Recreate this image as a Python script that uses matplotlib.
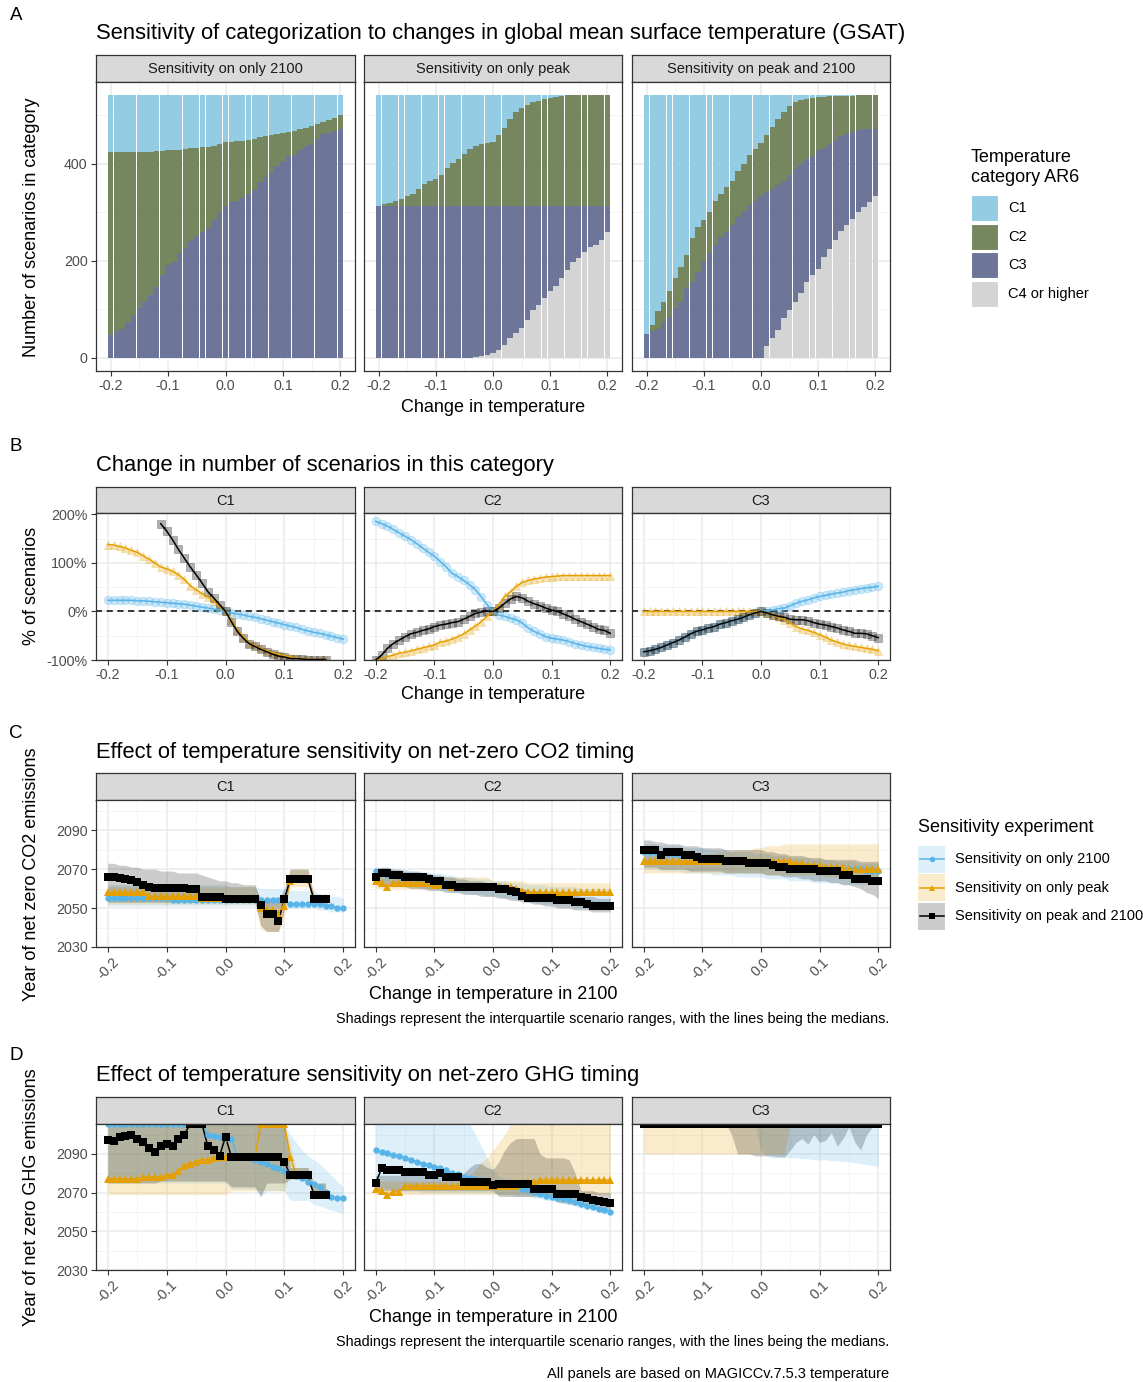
import numpy as np
import matplotlib
matplotlib.use("Agg")
import matplotlib.pyplot as plt
from matplotlib.patches import Rectangle

plt.rcParams['font.family'] = ['Liberation Sans', 'DejaVu Sans']

nan = np.nan
TOP = 2105.5   # scenarios that do not reach net zero sit on the upper edge

# change in temperature (x categories)
dT = np.round(np.linspace(-0.2, 0.2, 41), 2)
TOTAL = 541

# ---- panel A: stacked counts, given as cumulative tops of each category ----
only2100_top_c4 = [0] * 41
only2100_top_c3 = [48, 55, 60, 74, 89, 102, 116, 130, 145, 170, 191, 198, 215, 227, 240, 251, 259, 268, 283, 300,
                   313, 321, 324, 329, 337, 345, 363, 372, 382, 395, 404, 415, 418, 427, 437, 440, 451, 461, 464, 468, 471]
only2100_top_c2 = [423] * 8 + [425, 426, 427, 428, 429, 431, 432, 433, 434, 435, 437, 440, 444, 445, 446, 447, 449,
                               451, 454, 456, 458, 461, 463, 465, 468, 471, 474, 478, 482, 486, 490, 494, 500]

onlypeak_top_c4 = [0] * 17 + [1, 3, 6, 10, 17, 26, 40, 51, 61, 78, 99, 109, 123, 137, 149, 164, 181, 198, 206, 217,
                               229, 233, 242, 259]
onlypeak_top_c3 = [312] * 41
onlypeak_top_c2 = [313, 316, 318, 323, 328, 333, 338, 348, 358, 364, 369, 376, 390, 401, 410, 420, 430, 436, 440, 442,
                   444, 459, 474, 491, 507, 515, 520, 526, 529, 532, 536, 538, 539] + [541] * 8

both_top_c4 = [0] * 21 + [25, 41, 58, 82, 99, 116, 133, 157, 171, 184, 208, 225, 242, 261, 273, 285, 300, 311, 321, 334]
both_top_c3 = [49, 55, 60, 74, 85, 102, 116, 143, 157, 177, 198, 215, 232, 249, 259, 273, 290, 302, 314, 324,
               334, 341, 348, 355, 365, 377, 388, 399, 410, 416, 427, 433, 440, 447, 456, 461, 466, 469, 471, 472, 472]
both_top_c2 = [49, 68, 96, 116, 137, 165, 188, 212, 246, 270, 283, 300, 324, 338, 352, 365, 384, 399, 418, 430,
               442, 459, 476, 491, 507, 519, 527, 531, 534, 536, 537, 538, 539, 539, 540, 540, 540, 541, 541, 541, 541]

# ---- panel B: % change in number of scenarios ----
b_c1_2100 = [23, 23, 23, 23, 23, 22, 22, 21, 20, 19, 18, 17, 16, 15, 13, 11, 9, 7, 5, 3, 0, -3, -5, -7, -10, -12,
             -15, -18, -21, -24, -27, -30, -33, -37, -40, -43, -45, -48, -51, -54, -57]
b_c1_peak = [138, 137, 134, 131, 126, 122, 115, 108, 100, 92, 88, 83, 76, 66, 53, 45, 37, 30, 21, 10, 0, -17, -38,
             -52, -64, -70, -76, -81, -85, -88, -91, -93, -96, -97, -98, -99, -99, -99, nan, nan, nan]
b_c1_both = [nan] * 9 + [181, 166, 148, 128, 110, 92, 76, 59, 41, 28, 14, 0, -21, -41, -55, -66, -72, -78, -83, -88,
                         -92, -94, -97, -97, -98, -99, -99, -99, -99] + [nan] * 3
b_c2_2100 = [186, 181, 176, 169, 162, 155, 148, 140, 131, 122, 114, 103, 92, 79, 72, 64, 55, 45, 30, 14, 0, -7, -10,
             -14, -17, -24, -34, -41, -46, -52, -55, -57, -59, -62, -66, -69, -72, -74, -76, -78, -79]
b_c2_peak = [-100, -98, -93, -90, -86, -84, -81, -78, -75, -72, -69, -63, -61, -57, -52, -46, -38, -30, -21, -10, 0,
             14, 31, 41, 52, 60, 64, 67, 69, 71, 72, 73, 74, 74, 74, 74, 74, 74, 74, 74, 74]
b_c2_both = [-100, -90, -76, -66, -59, -52, -46, -43, -39, -36, -31, -28, -26, -23, -21, -16, -10, -4, -1, 1, 0, 7,
             17, 26, 31, 28, 21, 16, 12, 7, 3, 0, -5, -10, -16, -21, -26, -31, -37, -39, -45]
b_c3_2100 = [-83, -81, -78, -74, -69, -64, -59, -53, -46, -41, -38, -34, -31, -26, -23, -19, -16, -12, -7, -3, 0, 2,
             3, 6, 7, 12, 17, 21, 24, 28, 31, 33, 36, 38, 40, 43, 45, 47, 49, 50, 52]
b_c3_peak = [0] * 21 + [-3, -7, -12, -17, -24, -31, -36, -39, -43, -48, -53, -59, -63, -67, -70, -72, -74, -76, -78, -81]
b_c3_both = [-83, -81, -78, -74, -69, -64, -59, -53, -46, -41, -38, -34, -31, -26, -23, -19, -16, -12, -7, -3, 0, -3,
             -7, -10, -12, -16, -17, -17, -19, -23, -26, -28, -31, -34, -38, -41, -45, -45, -46, -50, -54]

# ---- panel C: net-zero CO2 year (median, 25th, 75th percentile) ----
co2_c1_2100_med = [2055] * 11 + [2054] * 20 + [2052] * 6 + [2051] * 2 + [2050] * 2
co2_c1_2100_lo = [2051] * 31 + [2050] * 5 + [2049, 2049, 2048, 2048, 2048]
co2_c1_2100_hi = [2062] * 21 + [2061] * 5 + [2060] * 5 + [2059] * 5 + [2057, 2057, 2056, 2056, 2055]
co2_c1_peak_med = [2058] * 7 + [2056] * 9 + [2055] * 10 + [2050, 2049, 2049, 2047, 2051, 2064, 2065, 2065, 2065,
                                                           2055, 2055, 2055] + [nan] * 3
co2_c1_peak_lo = [2052] * 26 + [2039, 2038, 2038, 2038, 2045, 2061, 2061, 2061, 2061, 2052, 2052, 2052] + [nan] * 3
co2_c1_peak_hi = [2061] * 26 + [2054, 2054, 2054, 2054, 2056, 2070, 2070, 2070, 2070, 2057, 2057, 2057] + [nan] * 3
co2_c1_both_med = [2066, 2066, 2065.5, 2065, 2064.5, 2063.5, 2062, 2061, 2060.5, 2060.5, 2060.5, 2060.5, 2060.5,
                   2060.5, 2060, 2060, 2055.5, 2055.5, 2055.5, 2055.5, 2054.5, 2054.5, 2054.5, 2054.5, 2054.5, 2054.5,
                   2051.5, 2047, 2047, 2043.5, 2054.5, 2065, 2065, 2065, 2065, 2054.5, 2054.5, 2054.5, nan, nan, nan]
co2_c1_both_lo = [2053] * 26 + [2041, 2038, 2038, 2038, 2049, 2064, 2064, 2064, 2064, 2052, 2052, 2052] + [nan] * 3
co2_c1_both_hi = [2073, 2073, 2072, 2072, 2071, 2071, 2070, 2070, 2070, 2069, 2069, 2069, 2068, 2068, 2068, 2068,
                  2067, 2066, 2065, 2064, 2064, 2063, 2063, 2062, 2062, 2062, 2054, 2054, 2054, 2054, 2060, 2070,
                  2070, 2070, 2070, 2057, 2057, 2057, nan, nan, nan]

co2_c2_2100_med = [2069, 2068, 2067, 2067, 2066, 2066, 2066, 2065, 2065, 2065, 2064, 2064, 2063, 2062, 2062, 2061,
                   2061, 2061, 2061, 2061, 2061, 2060, 2060, 2059, 2058, 2057, 2056, 2056, 2056, 2056, 2056, 2055,
                   2055, 2054, 2054, 2053, 2053, 2052, 2052, 2051, 2051]
co2_c2_2100_lo = [2063, 2063, 2062, 2062, 2062, 2061, 2061, 2061, 2060, 2060, 2060, 2059, 2059, 2058, 2058, 2058,
                  2057, 2057, 2057, 2056, 2056, 2056, 2055, 2055, 2054, 2054, 2053, 2053, 2052, 2052, 2052, 2051,
                  2051, 2051, 2050, 2050, 2050, 2049, 2049, 2049, 2049]
co2_c2_2100_hi = [2071, 2071, 2071, 2070, 2070, 2070, 2069, 2069, 2069, 2068, 2068, 2068, 2067, 2067, 2066, 2066,
                  2066, 2065, 2065, 2065, 2064, 2064, 2064, 2063, 2063, 2063, 2062, 2062, 2062, 2062, 2061, 2061,
                  2061, 2061, 2061, 2060, 2060, 2060, 2060, 2060, 2060]
co2_c2_peak_med = [2064, 2063, 2061, 2063, 2063, 2063, 2063, 2063, 2063, 2063, 2062, 2062, 2062, 2061, 2061, 2061,
                   2061, 2061, 2061, 2061, 2061, 2061, 2061, 2061, 2060, 2059] + [2058] * 15
co2_c2_peak_lo = [2060] * 20 + [2059] * 6 + [2057] * 15
co2_c2_peak_hi = [2066] * 20 + [2064] * 6 + [2063] * 15
co2_c2_both_med = [2066, 2068, 2068, 2067, 2067, 2066, 2066, 2066, 2066, 2065, 2064, 2064, 2062, 2062, 2061, 2061,
                   2061, 2061, 2061, 2061, 2061, 2060, 2060, 2059, 2058, 2056, 2055, 2055, 2055, 2055, 2055, 2054,
                   2054, 2054, 2053, 2053, 2052, 2051, 2051, 2051, 2051]
co2_c2_both_lo = [2062, 2062, 2062, 2061, 2061, 2061, 2060, 2060, 2060, 2059, 2059, 2059, 2058, 2058, 2058, 2057,
                  2057, 2057, 2056, 2056, 2056, 2055, 2055, 2054, 2054, 2053, 2053, 2052, 2052, 2051, 2051, 2050,
                  2050, 2050, 2049, 2049, 2049, 2048, 2048, 2048, 2048]
co2_c2_both_hi = [2070, 2071, 2071, 2070, 2070, 2069, 2069, 2069, 2068, 2068, 2067, 2067, 2066, 2066, 2065, 2065,
                  2064, 2064, 2064, 2063, 2063, 2063, 2062, 2062, 2061, 2060, 2059, 2059, 2059, 2058, 2058, 2058,
                  2057, 2057, 2057, 2056, 2056, 2056, 2055, 2055, 2055]

co2_c3_2100_med = [2079, 2079, 2079, 2078, 2078, 2078, 2077, 2077, 2077, 2076, 2075, 2075, 2075, 2075, 2074, 2074,
                   2074, 2074, 2073, 2073, 2073, 2073, 2072, 2071, 2071, 2071, 2071, 2071, 2070, 2070, 2070, 2070,
                   2070, 2070, 2070, 2070, 2070, 2070, 2069, 2069, 2069]
co2_c3_2100_lo = [2070, 2070, 2070, 2069, 2069, 2069, 2069, 2068, 2068, 2068, 2068, 2068, 2067, 2067, 2067, 2067,
                  2066, 2066, 2066, 2066, 2066, 2065, 2065, 2065, 2065, 2064, 2064, 2064, 2064, 2063, 2063, 2063,
                  2063, 2063, 2062, 2062, 2062, 2062, 2062, 2062, 2062]
co2_c3_2100_hi = [2083, 2083, 2083, 2082, 2082, 2082, 2082, 2081, 2081, 2081, 2081, 2080, 2080, 2080, 2080, 2079,
                  2079, 2079, 2079, 2078, 2078, 2078, 2077, 2077, 2077, 2076, 2076, 2076, 2076, 2075, 2075, 2075,
                  2075, 2074, 2074, 2074, 2074, 2073, 2073, 2073, 2073]
co2_c3_peak_med = [2074] * 26 + [2073, 2073, 2072, 2072, 2072, 2071, 2071, 2071, 2071, 2070, 2070, 2070, 2070, 2070,
                                 2070]
co2_c3_peak_lo = [2068] * 21 + [2067] * 10 + [2066] * 10
co2_c3_peak_hi = [2077] * 11 + [2078, 2078, 2079, 2079, 2079, 2080, 2080, 2080, 2081, 2081, 2082, 2082, 2082,
                                2083] + [2083] * 16
co2_c3_both_med = [2080, 2080, 2080, 2077, 2079, 2079, 2079, 2077, 2077, 2076, 2075, 2075, 2075, 2075, 2074, 2074,
                   2074, 2074, 2073, 2073, 2073, 2073, 2072, 2071, 2071, 2070, 2070, 2070, 2070, 2070, 2069, 2069,
                   2069, 2069, 2067, 2067, 2065, 2065, 2065, 2064, 2064]
co2_c3_both_lo = [2071, 2071, 2071, 2070, 2070, 2070, 2070, 2070, 2069, 2069, 2069, 2069, 2069, 2069, 2068, 2068,
                  2068, 2068, 2068, 2068, 2068, 2067, 2067, 2067, 2066, 2066, 2066, 2065, 2065, 2064, 2064, 2064,
                  2063, 2063, 2062, 2062, 2061, 2060, 2058, 2057, 2055]
co2_c3_both_hi = [2085, 2085, 2084, 2084, 2083, 2083, 2083, 2082, 2082, 2082, 2081, 2081, 2081, 2081, 2080, 2080,
                  2080, 2080, 2080, 2080, 2080, 2079, 2079, 2078, 2078, 2077, 2077, 2077, 2076, 2076, 2076, 2075,
                  2075, 2075, 2075, 2075, 2075, 2074, 2074, 2074, 2074]

# ---- panel D: net-zero GHG year ----
ghg_c1_2100_med = [TOP] * 17 + [2100, 2099.5, 2099, 2098.5, 2098, 2088.5, 2088.5, 2088, 2087, 2086, 2085, 2083.5,
                                2082.5, 2081, 2079, 2078.5, 2077.5, 2075.5, 2074.5, 2073, 2070.5, 2068, 2067, 2067]
ghg_c1_2100_lo = [2075] * 21 + [2072] * 5 + [2068, 2071, 2071, 2071, 2071, 2066, 2066, 2066, 2066, 2064, 2063,
                                             2062, 2061, 2060, 2059]
ghg_c1_2100_hi = [TOP] * 31 + [2100, 2096, 2092, 2089, 2087, 2085, 2082, 2079, 2076, 2073]
ghg_c1_peak_med = [2077] * 6 + [2078] * 4 + [2079, 2079, 2081, 2084, 2085, 2086, 2087, 2087, 2088] + [2088.5] * 7 \
    + [TOP] * 5 + [2088.5, 2079, 2079, 2079, 2069, 2069, 2069] + [nan] * 3
ghg_c1_peak_lo = [2069] * 21 + [2071] * 10 + [2080, 2077, 2077, 2077, 2068, 2068, 2068] + [nan] * 3
ghg_c1_peak_hi = [TOP] * 31 + [2095, 2083, 2083, 2083, 2075, 2075, 2075] + [nan] * 3
ghg_c1_both_med = [2097, 2096.5, 2099, 2099.5, 2100, 2098, 2096, 2093, 2091, 2094, 2095, 2094, 2098, 2100, TOP, TOP,
                   TOP, 2094, 2092, 2089, 2099] + [2088.5] * 9 + [2086, 2079, 2079, 2079, 2079, 2069, 2069, 2069] \
    + [nan] * 3
ghg_c1_both_lo = [2075] * 9 + [2076] * 12 + [2073] * 5 + [2068, 2075, 2075, 2075, 2075, 2077, 2077, 2077, 2077, 2068,
                                                          2068, 2068] + [nan] * 3
ghg_c1_both_hi = [TOP] * 31 + [2083] * 4 + [2075] * 3 + [nan] * 3

ghg_c2_2100_med = [2092, 2091, 2090.5, 2089.5, 2089, 2088, 2087, 2086, 2085, 2084.5, 2083.5, 2082.5, 2081.5, 2080,
                   2079.5, 2078, 2077.5, 2077, 2076.5, 2075.5, 2074, 2074, 2074, 2073.5, 2073, 2072, 2071.5, 2070.5,
                   2069.5, 2068.5, 2068, 2067, 2066.5, 2066, 2065, 2064, 2063, 2062.5, 2061.5, 2061, 2060]
ghg_c2_2100_lo = [2072, 2072, 2072, 2071, 2071, 2071, 2071, 2071, 2070, 2070, 2070, 2070, 2070, 2070, 2070, 2070,
                  2070, 2070, 2070, 2070, 2070, 2069, 2069, 2069, 2068, 2068, 2068, 2067, 2067, 2066, 2066, 2065,
                  2064, 2064, 2063, 2062, 2062, 2061, 2060, 2059, 2059]
ghg_c2_2100_hi = [TOP] * 17 + [2100, 2094, 2088, 2082, 2078, 2077, 2077, 2076, 2076, 2075, 2075, 2074, 2074, 2073,
                               2072, 2071, 2071, 2070, 2069, 2069, 2068, 2067, 2067, 2066]
ghg_c2_peak_med = [2072, 2071, 2069, 2070.5, 2070.5] + [2073.5] * 20 + [2075.5] * 3 + [2076.5] * 13
ghg_c2_peak_lo = [2069] * 41
ghg_c2_peak_hi = [2076] * 16 + [2078, 2082, 2086, 2088, 2092, 2096, 2100] + [TOP] * 18
ghg_c2_both_med = [2075, 2082.5, 2081.5, 2081.5, 2081.5, 2080.5, 2080.5, 2080.5, 2080.5, 2079, 2079, 2080, 2078,
                   2078, 2078, 2075.5, 2075.5, 2075.5, 2075.5, 2075.5, 2074] + [2074.5] * 6 + [2072] * 4 \
    + [2069.5] * 4 + [2068, 2067, 2066, 2065.5, 2065, 2064.5]
ghg_c2_both_lo = [2071] * 21 + [2068] * 10 + [2065, 2065, 2064, 2064, 2063, 2063, 2062, 2062, 2061, 2061]
ghg_c2_both_hi = [2079] * 15 + [2080, 2083, 2085, 2085, 2083, 2082, 2086, 2092, 2096, 2098, 2098, 2098, 2098, 2090,
                                2088, 2088, 2088, 2088, 2087, 2080, 2071, 2071, 2071, 2070, 2070, 2070]

ghg_c3_2100_med = [TOP] * 41
ghg_c3_2100_lo = [TOP] * 20 + [2092, 2089, 2088, 2088, 2088, 2088, 2088, 2087.5, 2087.5, 2087, 2087, 2087, 2086.5,
                               2086.5, 2086, 2086, 2085.5, 2085, 2084.5, 2084, 2083.5]
ghg_c3_2100_hi = [TOP] * 41
ghg_c3_peak_med = [TOP] * 41
ghg_c3_peak_lo = [2090] * 25 + [TOP] * 16
ghg_c3_peak_hi = [TOP] * 41
ghg_c3_both_med = [TOP] * 41
ghg_c3_both_lo = [TOP] * 15 + [2100, 2090, 2090, 2090, 2089, 2089, 2089, 2089, 2088.5, 2088.5, 2092, 2096, 2098,
                               2095, 2100, 2096, 2097, 2101, 2094, 2098, 2104, 2096, 2092, 2100, 2104, TOP]
ghg_c3_both_hi = [TOP] * 41

for name, v in list(globals().items()):
    if name.startswith(('only', 'both', 'b_c', 'co2_', 'ghg_')) and isinstance(v, list):
        assert len(v) == 41, (name, len(v))

# ---------------------------------------------------------------- style
W, H = 1143, 1382
COLS = [(96, 355), (364, 622), (632, 890)]
INK, TICKC, FRAME, GRID = '#1a1a1a', '#4d4d4d', '#333333', '#ebebeb'
CAT_COL = ['#94cde3', '#76865f', '#6d7698', '#d4d4d4']
CAT_LAB = ['C1', 'C2', 'C3', 'C4 or higher']
EXP_COL = ['#56B4E9', '#E69F00', '#000000']
EXP_MK = ['o', '^', 's']
EXP_LAB = ['Sensitivity on only 2100', 'Sensitivity on only peak', 'Sensitivity on peak and 2100']

fig = plt.figure(figsize=(W / 100, H / 100), dpi=100)
lay = fig.add_axes([0, 0, 1, 1])
lay.set_xlim(0, W)
lay.set_ylim(H, 0)
lay.axis('off')


def box(x0, y0, x1, y1):
    return [x0 / W, 1 - y1 / H, (x1 - x0) / W, (y1 - y0) / H]


def panel(col, strip, plot, label, xlim, ylim, yt, ytl, ymin, rot=False):
    x0, x1 = COLS[col]
    sx = fig.add_axes(box(x0, strip[0], x1, strip[1]))
    sx.set_facecolor('#d9d9d9')
    sx.set_xticks([])
    sx.set_yticks([])
    for s in sx.spines.values():
        s.set_color(FRAME)
        s.set_linewidth(0.9)
    sx.text(0.5, 0.48, label, ha='center', va='center', fontsize=10.5, color=INK, transform=sx.transAxes)

    ax = fig.add_axes(box(x0, plot[0], x1, plot[1]))
    ax.set_xlim(*xlim)
    ax.set_ylim(*ylim)
    ax.set_xticks([-0.2, -0.1, 0.0, 0.1, 0.2])
    if rot:
        ax.set_xticklabels(['-0.2', '-0.1', '0.0', '0.1', '0.2'], rotation=45, ha='center', va='top')
    else:
        ax.set_xticklabels(['-0.2', '-0.1', '0.0', '0.1', '0.2'])
    ax.set_xticks([-0.15, -0.05, 0.05, 0.15], minor=True)
    ax.set_yticks(yt)
    ax.set_yticks(ymin, minor=True)
    if col == 0:
        ax.set_yticklabels(ytl)
    else:
        ax.tick_params(axis='y', which='both', left=False, labelleft=False)
    ax.grid(True, which='major', color=GRID, lw=1.1)
    ax.grid(True, which='minor', color='#f2f2f2', lw=0.6)
    ax.set_axisbelow(True)
    ax.tick_params(which='major', length=3.5, width=0.8, color=FRAME, labelsize=10.3, labelcolor=TICKC, pad=2.5)
    ax.tick_params(which='minor', length=0)
    for s in ax.spines.values():
        s.set_color(FRAME)
        s.set_linewidth(0.9)
        s.set_zorder(5)
    return ax


# ---------------------------------------------------------------- A
A_strip, A_plot = (55, 82), (82, 371)
a_sets = [('Sensitivity on only 2100', only2100_top_c4, only2100_top_c3, only2100_top_c2),
          ('Sensitivity on only peak', onlypeak_top_c4, onlypeak_top_c3, onlypeak_top_c2),
          ('Sensitivity on peak and 2100', both_top_c4, both_top_c3, both_top_c2)]
for j, (lab, t4, t3, t2) in enumerate(a_sets):
    ax = panel(j, A_strip, A_plot, lab, (-0.2255, 0.2255), (-27, 568), [0, 200, 400], ['0', '200', '400'],
               [100, 300, 500])
    t4, t3, t2 = np.array(t4), np.array(t3), np.array(t2)
    tot = np.full(41, TOTAL)
    bounds = [np.zeros(41), t4, t3, t2, tot]
    for k, c in zip([3, 2, 1, 0], CAT_COL[::-1]):
        lo, hi = bounds[3 - k], bounds[4 - k]
        ax.bar(dT, hi - lo, bottom=lo, width=0.0094, color=c, lw=0)

# ---------------------------------------------------------------- B
B_strip, B_plot = (487, 513), (513, 660)
b_sets = [('C1', [b_c1_2100, b_c1_peak, b_c1_both]),
          ('C2', [b_c2_2100, b_c2_peak, b_c2_both]),
          ('C3', [b_c3_2100, b_c3_peak, b_c3_both])]
for j, (lab, series) in enumerate(b_sets):
    ax = panel(j, B_strip, B_plot, lab, (-0.22, 0.22), (-100, 203), [-100, 0, 100, 200],
               ['-100%', '0%', '100%', '200%'], [-50, 50, 150])
    ax.axhline(0, color='black', lw=1.1, ls=(0, (4, 3)), zorder=2)
    for v, c, m in zip(series, EXP_COL, EXP_MK):
        ax.plot(dT, v, ls='none', marker=m, ms=6.3, color=c, mec=c, alpha=0.3, mew=0.5, zorder=3)
    for v, c in zip(series, EXP_COL):
        ax.plot(dT, v, color=c, lw=1.1, zorder=4)


# ---------------------------------------------------------------- C and D
def year_panels(strip, plot, groups):
    for j, (lab, series) in enumerate(groups):
        ax = panel(j, strip, plot, lab, (-0.22, 0.22), (2030, TOP), [2030, 2050, 2070, 2090],
                   ['2030', '2050', '2070', '2090'], [2040, 2060, 2080, 2100], rot=True)
        for (med, lo, hi), c in zip(series, EXP_COL):
            ax.fill_between(dT, lo, hi, color=c, alpha=0.2, lw=0, zorder=2)
        for (med, lo, hi), c in zip(series, EXP_COL):
            ax.plot(dT, med, color=c, lw=1.1, zorder=3)
        for (med, lo, hi), c, m, ms in zip(series, EXP_COL, EXP_MK, [4.6, 5.3, 5.3]):
            ax.plot(dT, med, ls='none', marker=m, ms=ms, color=c, mew=0, zorder=4)


C_groups = [('C1', [(co2_c1_2100_med, co2_c1_2100_lo, co2_c1_2100_hi),
                    (co2_c1_peak_med, co2_c1_peak_lo, co2_c1_peak_hi),
                    (co2_c1_both_med, co2_c1_both_lo, co2_c1_both_hi)]),
            ('C2', [(co2_c2_2100_med, co2_c2_2100_lo, co2_c2_2100_hi),
                    (co2_c2_peak_med, co2_c2_peak_lo, co2_c2_peak_hi),
                    (co2_c2_both_med, co2_c2_both_lo, co2_c2_both_hi)]),
            ('C3', [(co2_c3_2100_med, co2_c3_2100_lo, co2_c3_2100_hi),
                    (co2_c3_peak_med, co2_c3_peak_lo, co2_c3_peak_hi),
                    (co2_c3_both_med, co2_c3_both_lo, co2_c3_both_hi)])]
D_groups = [('C1', [(ghg_c1_2100_med, ghg_c1_2100_lo, ghg_c1_2100_hi),
                    (ghg_c1_peak_med, ghg_c1_peak_lo, ghg_c1_peak_hi),
                    (ghg_c1_both_med, ghg_c1_both_lo, ghg_c1_both_hi)]),
            ('C2', [(ghg_c2_2100_med, ghg_c2_2100_lo, ghg_c2_2100_hi),
                    (ghg_c2_peak_med, ghg_c2_peak_lo, ghg_c2_peak_hi),
                    (ghg_c2_both_med, ghg_c2_both_lo, ghg_c2_both_hi)]),
            ('C3', [(ghg_c3_2100_med, ghg_c3_2100_lo, ghg_c3_2100_hi),
                    (ghg_c3_peak_med, ghg_c3_peak_lo, ghg_c3_peak_hi),
                    (ghg_c3_both_med, ghg_c3_both_lo, ghg_c3_both_hi)])]
year_panels((773, 800), (800, 947), C_groups)
year_panels((1097, 1124), (1124, 1270), D_groups)

# ---------------------------------------------------------------- text
for letter, y in [('A', 15), ('B', 446), ('C', 733), ('D', 1056)]:
    lay.text(16, y, letter, fontsize=13.5, ha='center', va='center', color='black')
titles = [(33, 'Sensitivity of categorization to changes in global mean surface temperature (GSAT)'),
          (465, 'Change in number of scenarios in this category'),
          (752, 'Effect of temperature sensitivity on net-zero CO2 timing'),
          (1075, 'Effect of temperature sensitivity on net-zero GHG timing')]
for y, t in titles:
    lay.text(96, y, t, fontsize=15.8, ha='left', va='center', color='black')
for y, t in [(227, 'Number of scenarios in category'), (586, '% of scenarios'),
             (874, 'Year of net zero CO2 emissions'), (1197, 'Year of net zero GHG emissions')]:
    lay.text(32, y, t, fontsize=13, rotation=90, ha='center', va='center', color='black')
for y, t in [(407, 'Change in temperature'), (694, 'Change in temperature'),
             (994, 'Change in temperature in 2100'), (1318, 'Change in temperature in 2100')]:
    lay.text(493, y, t, fontsize=13, ha='center', va='center', color='black')
cap = 'Shadings represent the interquartile scenario ranges, with the lines being the medians.'
lay.text(889, 1019, cap, fontsize=10.4, ha='right', va='center', color='black')
lay.text(889, 1342, cap, fontsize=10.4, ha='right', va='center', color='black')
lay.text(889, 1374, 'All panels are based on MAGICCv.7.5.3 temperature', fontsize=10.5, ha='right', va='center',
         color='black')

# legend A
lay.text(971, 157, 'Temperature', fontsize=13, ha='left', va='center')
lay.text(971, 177, 'category AR6', fontsize=13, ha='left', va='center')
for k, (c, lab) in enumerate(zip(CAT_COL, CAT_LAB)):
    y0 = 195 + 28.5 * k
    lay.add_patch(Rectangle((971, y0), 27, 26, facecolor=c, edgecolor='white', lw=0.8))
    lay.text(1008, y0 + 13, lab, fontsize=10.5, ha='left', va='center')

# legend C
lay.text(918, 827, 'Sensitivity experiment', fontsize=13, ha='left', va='center')
for k, (c, m, lab) in enumerate(zip(EXP_COL, EXP_MK, EXP_LAB)):
    yc = 859 + 28.5 * k
    lay.add_patch(Rectangle((918, yc - 13.5), 27, 27, facecolor=c, alpha=0.2, lw=0))
    lay.plot([919.5, 943.5], [yc, yc], color=c, lw=1.1)
    lay.plot([931.5], [yc], marker=m, color=c, ms=4, mew=0)
    lay.text(955, yc, lab, fontsize=10.5, ha='left', va='center')

fig.savefig('out.png', dpi=100)
